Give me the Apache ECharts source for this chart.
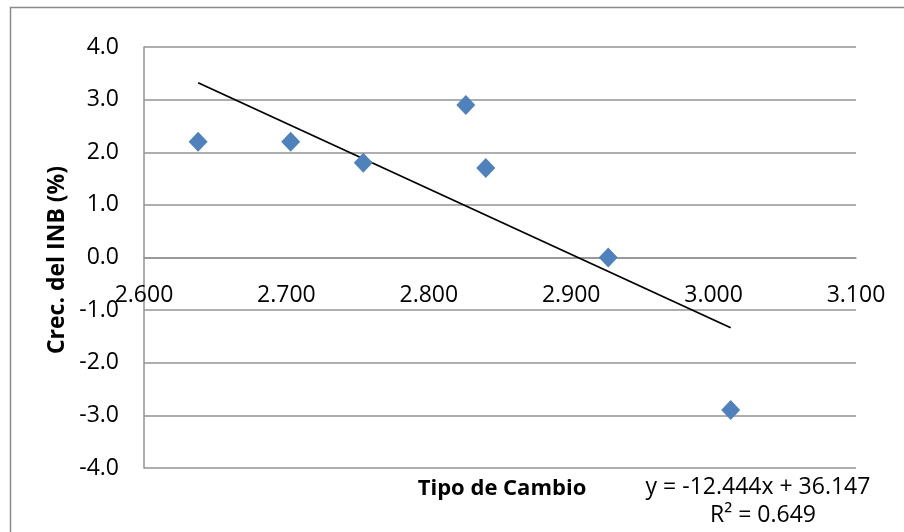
<!DOCTYPE html>
<html>
<head>
<meta charset="utf-8">
<style>
html,body{margin:0;padding:0;background:#fff;}
#chart{width:904px;height:532px;}
</style>
<script src="https://cdn.jsdelivr.net/npm/echarts@6/dist/echarts.min.js"></script>
</head>
<body>
<div id="chart"></div>
<script>
// Data
var tipoCambio = [2.638, 2.703, 2.754, 2.826, 2.840, 2.926, 3.012];
var crecINB    = [2.2, 2.2, 1.8, 2.9, 1.7, 0.0, -2.9];
// Trend line as printed on the chart
var trendSlope = -12.444;
var trendIntercept = 36.147;
var trendR2 = 0.649;
var xTicks = {min: 2.6, max: 3.1, interval: 0.1};
var yTicks = {min: -4, max: 4, interval: 1};

var points = tipoCambio.map(function (x, i) { return [x, crecINB[i]]; });
var xMinData = Math.min.apply(null, tipoCambio);
var xMaxData = Math.max.apply(null, tipoCambio);
var trend = [
  [xMinData, trendSlope * xMinData + trendIntercept],
  [xMaxData, trendSlope * xMaxData + trendIntercept]
];

var chart = echarts.init(document.getElementById('chart'), null, {renderer: 'canvas'});
var gridColor = '#939393';
var font = '"Open Sans", "DejaVu Sans", sans-serif';

chart.setOption({
  animation: false,
  backgroundColor: '#ffffff',
  grid: {left: 144, top: 47, right: 48, bottom: 64, containLabel: false},
  xAxis: {
    type: 'value',
    min: xTicks.min, max: xTicks.max, interval: xTicks.interval,
    offset: 0,
    axisLine: {show: true, onZero: false, lineStyle: {color: gridColor, width: 1.5}},
    axisTick: {show: false},
    splitLine: {show: false},
    axisLabel: {
      color: '#000', fontFamily: font, fontSize: 23, margin: 26,
      formatter: function (v) { return v.toFixed(3); }
    }
  },
  yAxis: {
    type: 'value',
    min: yTicks.min, max: yTicks.max, interval: yTicks.interval,
    axisLine: {show: true, onZero: false, lineStyle: {color: gridColor, width: 1.5}},
    axisTick: {show: false},
    splitLine: {show: true, lineStyle: {color: gridColor, width: 1.5}},
    axisLabel: {
      color: '#000', fontFamily: font, fontSize: 23, margin: 25,
      formatter: function (v) { return v.toFixed(1); }
    }
  },
  series: [
    {
      type: 'line',
      data: trend,
      symbol: 'none',
      lineStyle: {color: '#000', width: 1.8},
      z: 3
    },
    {
      type: 'scatter',
      data: points,
      symbol: 'diamond',
      symbolSize: [19, 20],
      itemStyle: {color: '#4F81BD', opacity: 1},
      z: 4
    }
  ],
  graphic: [
    {
      type: 'rect',
      shape: {x: 10.5, y: 7.5, width: 920, height: 560},
      style: {fill: 'none', stroke: '#8a8a8a', lineWidth: 1.5},
      silent: true
    },
    {
      type: 'text',
      x: 57, y: 260, rotation: Math.PI / 2,
      style: {
        text: 'Crec. del INB (%)', fontFamily: font, fontWeight: 'bold', fontSize: 23,
        fill: '#000', align: 'center', verticalAlign: 'middle'
      }
    },
    {
      type: 'text',
      x: 502, y: 489,
      style: {
        text: 'Tipo de Cambio', fontFamily: font, fontWeight: 'bold', fontSize: 22,
        fill: '#000', align: 'center', verticalAlign: 'middle'
      }
    },
    {
      type: 'text',
      x: 758, y: 487,
      style: {
        text: 'y = ' + trendSlope.toFixed(3) + 'x + ' + trendIntercept.toFixed(3),
        fontFamily: font, fontSize: 23,
        fill: '#000', align: 'center', verticalAlign: 'middle'
      }
    },
    {
      type: 'text',
      x: 763, y: 515,
      style: {
        text: 'R\u00B2 = ' + trendR2.toFixed(3),
        fontFamily: font, fontSize: 23,
        fill: '#000', align: 'center', verticalAlign: 'middle'
      }
    }
  ]
});

// Move the x axis (line and labels) up to where y = 0, as in the reference
var zeroPx = chart.convertToPixel({yAxisIndex: 0}, 0);
var bottomPx = chart.convertToPixel({yAxisIndex: 0}, yTicks.min);
chart.setOption({xAxis: {offset: zeroPx - bottomPx}});
</script>
</body>
</html>
